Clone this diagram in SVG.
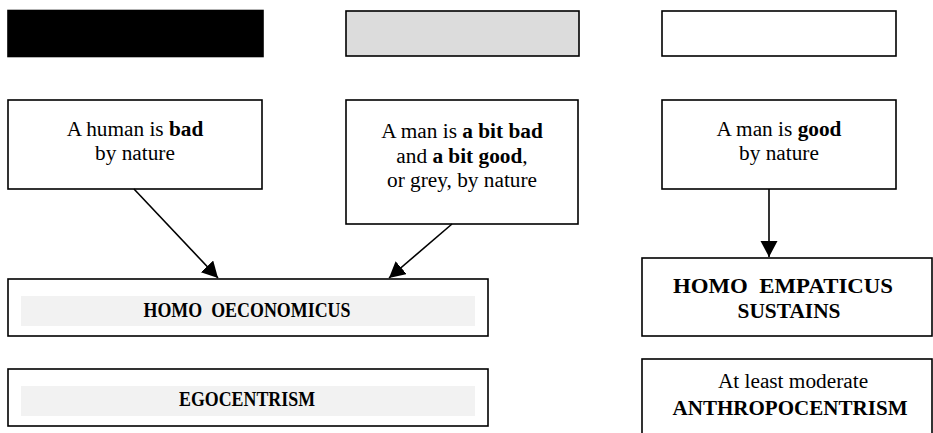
<svg xmlns="http://www.w3.org/2000/svg" width="933" height="433" viewBox="0 0 933 433">
  <style>
    .box { fill: #ffffff; stroke: #000000; stroke-width: 1.6; }
    .band { fill: #f2f2f2; stroke: none; }
    text { font-family: 'Liberation Serif', 'Times New Roman', Times, 'DejaVu Serif', serif; font-size: 21.3px; fill: #000000; text-anchor: middle; }
    .b { font-weight: bold; }
    .cap { font-size: 21px; }
    .link { stroke: #000000; stroke-width: 1.6; fill: none; marker-end: url(#arrow); }
  </style>
  <defs>
    <marker id="arrow" markerUnits="userSpaceOnUse" markerWidth="17" markerHeight="18" refX="16" refY="8.5" orient="auto">
      <path d="M0,0 L16,8.5 L0,17 Z" fill="#000000"/>
    </marker>
  </defs>

  <!-- colour key bars -->
  <g id="key-black"><rect x="8" y="10.5" width="255" height="46" fill="#000000" stroke="#000000" stroke-width="1.6"/></g>
  <g id="key-grey"><rect x="346" y="11" width="233" height="45" fill="#dcdcdc" stroke="#000000" stroke-width="1.6"/></g>
  <g id="key-white"><rect x="662" y="11" width="234" height="45" class="box"/></g>

  <!-- premises -->
  <g id="bad">
    <rect x="8" y="100" width="254" height="89" class="box"/>
    <text x="135" y="136">A human is <tspan class="b">bad</tspan></text>
    <text x="135" y="160">by nature</text>
  </g>
  <g id="grey">
    <rect x="346" y="100" width="232" height="124" class="box"/>
    <text x="462" y="138">A man is <tspan class="b">a bit bad</tspan></text>
    <text x="462" y="163">and <tspan class="b">a bit good</tspan>,</text>
    <text x="462" y="187">or grey, by nature</text>
  </g>
  <g id="good">
    <rect x="662" y="100" width="234" height="89" class="box"/>
    <text x="779" y="136">A man is <tspan class="b">good</tspan></text>
    <text x="779" y="160">by nature</text>
  </g>

  <!-- outcomes -->
  <g id="homo-oeconomicus">
    <rect x="8" y="279" width="480" height="57" class="box"/>
    <rect x="21" y="296" width="454" height="30" class="band"/>
    <text class="b cap" x="247" y="317" textLength="207" lengthAdjust="spacingAndGlyphs" xml:space="preserve">HOMO  OECONOMICUS</text>
  </g>
  <g id="egocentrism">
    <rect x="8" y="369" width="480" height="57" class="box"/>
    <rect x="21" y="386" width="454" height="30" class="band"/>
    <text class="b cap" x="247" y="406" textLength="136" lengthAdjust="spacingAndGlyphs">EGOCENTRISM</text>
  </g>
  <g id="homo-empaticus">
    <rect x="642" y="258" width="290" height="78" class="box"/>
    <text class="b cap" x="783" y="293" textLength="220" lengthAdjust="spacingAndGlyphs" xml:space="preserve">HOMO  EMPATICUS</text>
    <text class="b cap" x="789" y="318" textLength="103" lengthAdjust="spacingAndGlyphs">SUSTAINS</text>
  </g>
  <g id="anthropocentrism">
    <rect x="642" y="359" width="290" height="90" class="box"/>
    <text x="793" y="388">At least moderate</text>
    <text class="b cap" x="790" y="415" textLength="235" lengthAdjust="spacingAndGlyphs">ANTHROPOCENTRISM</text>
  </g>

  <!-- connectors -->
  <g id="connectors">
    <line class="link" x1="134" y1="189" x2="218" y2="278"/>
    <line class="link" x1="452" y1="224" x2="389" y2="278"/>
    <line class="link" x1="769" y1="189" x2="769" y2="257"/>
  </g>
</svg>
